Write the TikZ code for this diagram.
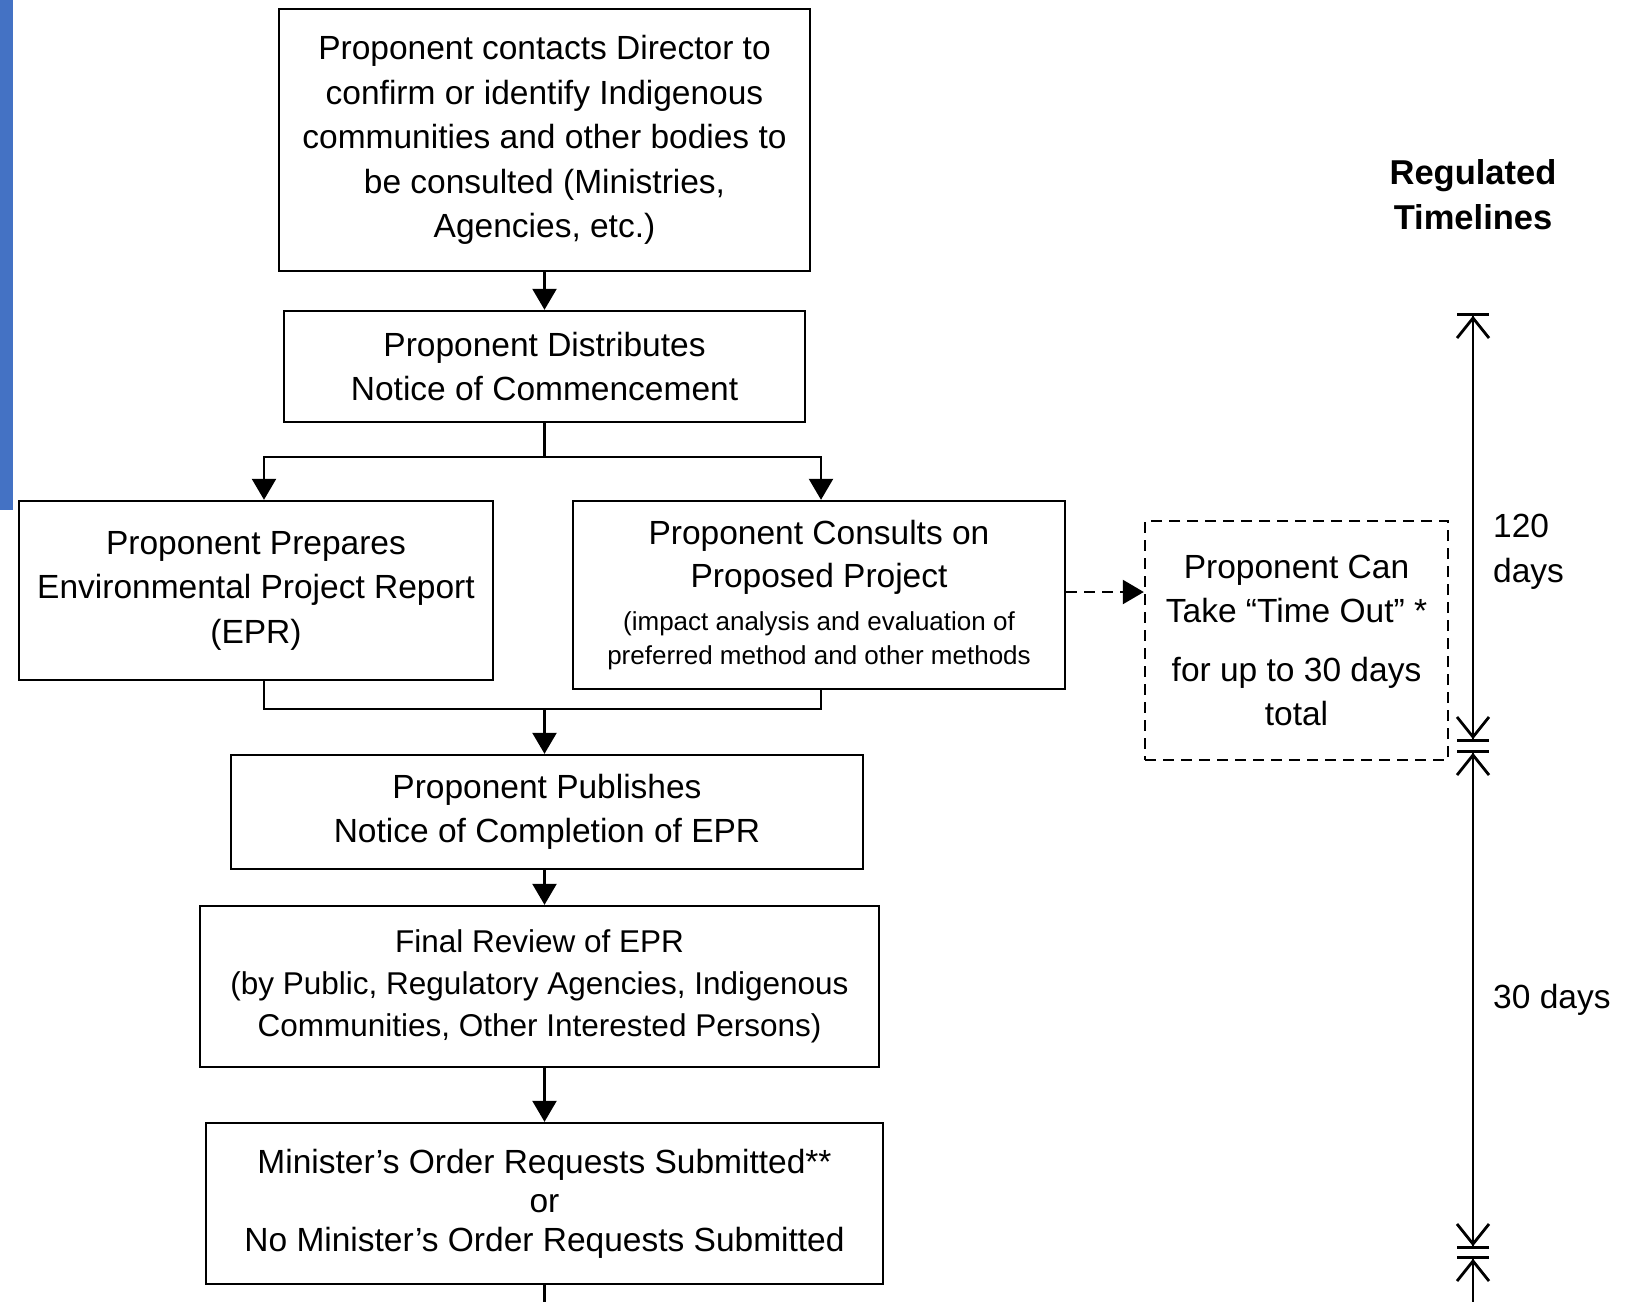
\documentclass[tikz,border=0pt]{standalone}
\usepackage{fontspec}
\setmainfont{Liberation Sans}
\usetikzlibrary{arrows.meta}
\definecolor{sidebar}{HTML}{4472C4}
\newcommand{\notesize}{\fontsize{26}{34.5}\selectfont}

\begin{document}
\begin{tikzpicture}[x=1pt, y=-1pt]
    \tikzstyle{stepbox} = [rectangle, draw, line width=2.4pt, inner sep=0pt, align=center, font=\fontsize{33.5}{44.5}\selectfont]
    \tikzstyle{pausebox} = [stepbox, dash pattern=on 11pt off 7pt]
    \tikzstyle{flow} = [line width=2.4pt, -{Triangle[length=21pt, width=24pt]}]
    \tikzstyle{link} = [line width=2.4pt]
    \tikzstyle{timespan} = [line width=2.8pt, {Bar[width=32pt, sep=0pt] Straight Barb[length=20pt, width=32pt, sep=0pt]}-{Straight Barb[length=20pt, width=32pt, sep=0pt] Bar[width=32pt, sep=0pt]}]
    \tikzstyle{timestart} = [line width=2.8pt, {Bar[width=32pt, sep=0pt] Straight Barb[length=20pt, width=32pt, sep=0pt]}-]
    \tikzstyle{daylabel} = [anchor=west, inner sep=0pt, align=left, font=\fontsize{33.5}{45}\selectfont]

    \useasboundingbox (0,0) rectangle (1637,1302);

    % Side bar
    \fill[sidebar] (0,0) rectangle (13,510);

    % Steps
    \node[stepbox, minimum width=531pt, minimum height=262pt] (contact) at (544.5,140) {Proponent contacts Director to\\confirm or identify Indigenous\\communities and other bodies to\\be consulted (Ministries,\\Agencies, etc.)};
    \node[stepbox, minimum width=521pt, minimum height=111pt] (notice) at (544.5,366.5) {Proponent Distributes\\Notice of Commencement};
    \node[stepbox, minimum width=474pt, minimum height=179pt] (report) at (256,590.5) {Proponent Prepares\\Environmental Project Report\\(EPR)};
    \node[stepbox, minimum width=492pt, minimum height=188pt] (consult) at (819,595) {Proponent Consults on\\[-1.5pt]Proposed Project\\[-1.5pt]\notesize (impact analysis and evaluation of\\[-10pt]\notesize preferred method and other methods};
    \node[pausebox, minimum width=303pt, minimum height=239pt] (pause) at (1296.5,640.5) {Proponent Can\\Take “Time Out” *\\[14pt]for up to 30 days\\total};
    \node[stepbox, minimum width=632pt, minimum height=114pt] (publish) at (547,812) {Proponent Publishes\\Notice of Completion of EPR};
    \node[stepbox, minimum width=679pt, minimum height=161pt, font=\fontsize{31.5}{42}\selectfont] (review) at (539.5,986.5) {Final Review of EPR\\(by Public, Regulatory Agencies, Indigenous\\Communities, Other Interested Persons)};
    \node[stepbox, minimum width=677pt, minimum height=161pt, font=\fontsize{33.5}{39}\selectfont] (order) at (544.5,1203.5) {Minister’s Order Requests Submitted**\\or\\No Minister’s Order Requests Submitted};

    % Connectors
    \coordinate (split) at (544.5,457);
    \coordinate (merge) at (544.5,709);
    \coordinate (exit) at (544.5,1302);
    \draw[flow] (contact.south) -- (notice.north);
    \draw[link] (notice.south) -- (split);
    \draw[flow] (split) -| ([xshift=8pt]report.north);
    \draw[flow] (split) -| ([xshift=2pt]consult.north);
    \draw[link] ([xshift=8pt]report.south) |- (merge);
    \draw[link] ([xshift=2pt]consult.south) |- (merge);
    \draw[flow] (merge) -- (merge |- publish.north);
    \draw[flow] (publish.south -| merge) -- (review.north -| merge);
    \draw[flow] (review.south -| merge) -- (order.north -| merge);
    \draw[link] (order.south -| merge) -- (exit);
    \draw[flow, dash pattern=on 11pt off 7pt] ([yshift=3pt]consult.east) -- ([yshift=3pt]consult.east -| pause.west);

    % Regulated timelines
    \node[align=center, inner sep=0pt, font=\fontsize{34.5}{45}\selectfont\bfseries] (title) at (1473,195) {Regulated\\Timelines};
    \coordinate (t0) at (1473,313);
    \coordinate (t1) at (1473,742);
    \coordinate (t2) at (1473,750);
    \coordinate (t3) at (1473,1249);
    \coordinate (t4) at (1473,1256);
    \coordinate (t5) at (1473,1302);
    \draw[timespan] (t0) -- (t1);
    \draw[timespan] (t2) -- (t3);
    \draw[timestart] (t4) -- (t5);
    \node[daylabel] (first) at (1493,552) {120\\days};
    \node[daylabel] (second) at (1493,1000) {30 days};
\end{tikzpicture}
\end{document}
